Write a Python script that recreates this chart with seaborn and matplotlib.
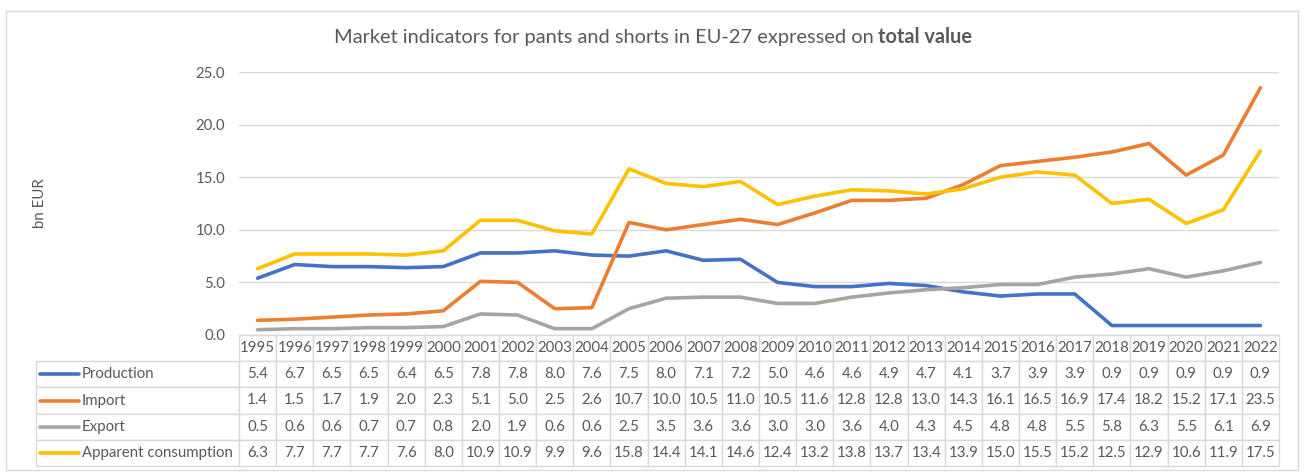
import matplotlib
matplotlib.use("Agg")
import matplotlib.pyplot as plt
import seaborn as sns
import pandas as pd
from matplotlib.patches import Rectangle

# Data (bn EUR)
years = list(range(1995, 2023))
production = [5.4, 6.7, 6.5, 6.5, 6.4, 6.5, 7.8, 7.8, 8.0, 7.6, 7.5, 8.0, 7.1, 7.2,
              5.0, 4.6, 4.6, 4.9, 4.7, 4.1, 3.7, 3.9, 3.9, 0.9, 0.9, 0.9, 0.9, 0.9]
imports = [1.4, 1.5, 1.7, 1.9, 2.0, 2.3, 5.1, 5.0, 2.5, 2.6, 10.7, 10.0, 10.5, 11.0,
           10.5, 11.6, 12.8, 12.8, 13.0, 14.3, 16.1, 16.5, 16.9, 17.4, 18.2, 15.2, 17.1, 23.5]
exports = [0.5, 0.6, 0.6, 0.7, 0.7, 0.8, 2.0, 1.9, 0.6, 0.6, 2.5, 3.5, 3.6, 3.6,
           3.0, 3.0, 3.6, 4.0, 4.3, 4.5, 4.8, 4.8, 5.5, 5.8, 6.3, 5.5, 6.1, 6.9]
consumption = [6.3, 7.7, 7.7, 7.7, 7.6, 8.0, 10.9, 10.9, 9.9, 9.6, 15.8, 14.4, 14.1, 14.6,
               12.4, 13.2, 13.8, 13.7, 13.4, 13.9, 15.0, 15.5, 15.2, 12.5, 12.9, 10.6, 11.9, 17.5]

series_names = ["Production", "Import", "Export", "Apparent consumption"]
series_values = [production, imports, exports, consumption]
colors = {"Production": "#4472C4", "Import": "#ED7D31",
          "Export": "#A5A5A5", "Apparent consumption": "#FFC000"}

TEXT = "#595959"
GRID = "#D9D9D9"

sns.set_theme(style="white")
plt.rcParams["font.family"] = ["Lato", "DejaVu Sans"]

df = pd.DataFrame({
    "idx": list(range(len(years))) * len(series_names),
    "value": sum(series_values, []),
    "indicator": [n for n in series_names for _ in years],
})

W, H = 1304, 472
fig = plt.figure(figsize=(W / 100, H / 100), dpi=100)


def px_box(x0, y0, x1, y1):
    # pixel box (top-left origin) -> figure fraction rect
    return [x0 / W, 1 - y1 / H, (x1 - x0) / W, (y1 - y0) / H]


# chart area border
fig.patches.append(Rectangle((6 / W, 1 - 470 / H), 1292 / W, 459 / H,
                             transform=fig.transFigure, fill=False,
                             edgecolor=GRID, lw=1))

ax = fig.add_axes(px_box(239, 72, 1279, 335))
sns.lineplot(data=df, x="idx", y="value", hue="indicator", hue_order=series_names,
             palette=colors, lw=2.6, legend=False, ax=ax, solid_capstyle="round")
ax.set_xlim(-0.5, len(years) - 0.5)
ax.set_ylim(0, 25)
ax.set_yticks([0, 5, 10, 15, 20, 25])
ax.set_yticklabels([f"{v:.1f}" for v in [0, 5, 10, 15, 20, 25]], color=TEXT, fontsize=10.8)
ax.set_xticks([])
ax.set_xlabel("")
ax.set_ylabel("")
ax.tick_params(axis="y", length=0, pad=10)
ax.yaxis.grid(True, color=GRID, lw=1)
ax.set_axisbelow(True)
for s in ax.spines.values():
    s.set_visible(False)

# data table under the plot
tax = fig.add_axes(px_box(36, 335, 1279, 466))
tax.set_xlim(0, 1)
tax.set_ylim(0, 1)
tax.axis("off")
label_w = 203 / 1243
col_w = (1 - label_w) / len(years)
cell_text = [[""] + [str(y) for y in years]]
for name, vals in zip(series_names, series_values):
    cell_text.append([name] + [f"{v:.1f}" for v in vals])
table = tax.table(cellText=cell_text, colWidths=[label_w] + [col_w] * len(years),
                  cellLoc="center", bbox=[0, 0, 1, 1])
table.auto_set_font_size(False)
table.set_fontsize(10.8)
for (r, c), cell in table.get_celld().items():
    cell.set_edgecolor(GRID)
    cell.set_linewidth(1)
    cell.get_text().set_color(TEXT)
    if c == 0:
        if r == 0:
            cell.visible_edges = ""
        cell._loc = "left"
        cell.PAD = 46 / 203
        cell.get_text().set_horizontalalignment("left")

nrows = len(series_names) + 1
for i, name in enumerate(series_names):
    yc = 1 - (i + 1.5) / nrows
    tax.plot([4 / 1243, 43 / 1243], [yc, yc], color=colors[name], lw=2.6,
             solid_capstyle="round", clip_on=False)

# y axis title
fig.text(40 / W, 1 - 203 / H, "bn EUR", rotation=90, ha="center", va="center",
         color=TEXT, fontsize=10.8)

# title with a bold tail
ty = 1 - 37 / H
t1 = fig.text(0, ty, "Market indicators for pants and shorts in EU-27 expressed on",
              color=TEXT, fontsize=14.4, va="center")
t2 = fig.text(0, ty, "total value", color=TEXT, fontsize=14.4, fontweight="bold", va="center")
fig.canvas.draw()
rend = fig.canvas.get_renderer()
w1 = t1.get_window_extent(rend).width
w2 = t2.get_window_extent(rend).width
gap = 5
x0 = 653 - (w1 + gap + w2) / 2
t1.set_x(x0 / W)
t2.set_x((x0 + w1 + gap) / W)

fig.savefig("out.png", dpi=100, facecolor="white")
